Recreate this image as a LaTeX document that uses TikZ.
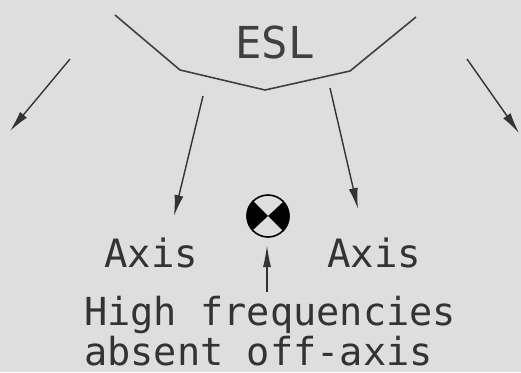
\documentclass[tikz,border=0pt]{standalone}
\usepackage{fontspec}
\setmonofont{DejaVu Sans Mono}
\usetikzlibrary{arrows.meta}

\begin{document}
\begin{tikzpicture}[
  x=1pt,
  y=-1pt,
  font=\ttfamily,
  outline/.style={draw=black!75, line width=1.6pt},
  beam/.style={
    draw=black!80,
    line width=1.4pt,
    -{Latex[length=21pt, width=9pt]}
  },
  label/.style={
    anchor=base west,
    inner sep=0pt,
    text=black!80,
    font=\fontsize{39}{46}\selectfont\ttfamily
  },
  note/.style={
    anchor=base west,
    inner sep=0pt,
    text=black!80,
    font=\fontsize{38.6}{46}\selectfont\ttfamily
  },
  title/.style={
    anchor=base west,
    inner sep=0pt,
    text=black!75,
    font=\fontsize{44}{50}\selectfont\ttfamily
  },
  crossmark/.style={
    circle,
    draw=black,
    line width=1.6pt,
    minimum size=42pt,
    inner sep=0pt
  }
]

\fill[black!13] (0,0) rectangle (521,372);
\useasboundingbox (0,0) rectangle (521,372);

% Line array seen from above.
\draw[outline] (115,15) -- (180,70) -- (265,90) -- (350,71) -- (416,17);
\node[title] (esl) at (235,58) {ESL};

\coordinate (ltail) at (70,59);
\coordinate (lhead) at (10,131);
\coordinate (rtail) at (467,59);
\coordinate (rhead) at (519,133);
\coordinate (iltail) at (203,96);
\coordinate (ilhead) at (174,216);
\coordinate (irtail) at (330,88);
\coordinate (irhead) at (358,209);
\coordinate (uptail) at (267,292);
\coordinate (uphead) at (267,245);

\draw[beam] (ltail) -- (lhead);
\draw[beam] (rtail) -- (rhead);
\draw[beam] (iltail) -- (ilhead);
\draw[beam] (irtail) -- (irhead);

% Listener symbol.
\node[crossmark] (listener) at (268,216) {};
\fill[black] (listener.center) -- (listener.north west) arc[start angle=135, end angle=225, radius=21pt] -- cycle;
\fill[black] (listener.center) -- (listener.south east) arc[start angle=-45, end angle=45, radius=21pt] -- cycle;
\draw[beam, -{Latex[length=22pt, width=8pt]}] (uptail) -- (uphead);

\node[label] (laxis) at (104,267) {Axis};
\node[label] (raxis) at (327,267) {Axis};
\node[note] (high) at (84,325) {High frequencies};
\node[note] (absent) at (84,365) {absent off-axis};

\end{tikzpicture}
\end{document}
